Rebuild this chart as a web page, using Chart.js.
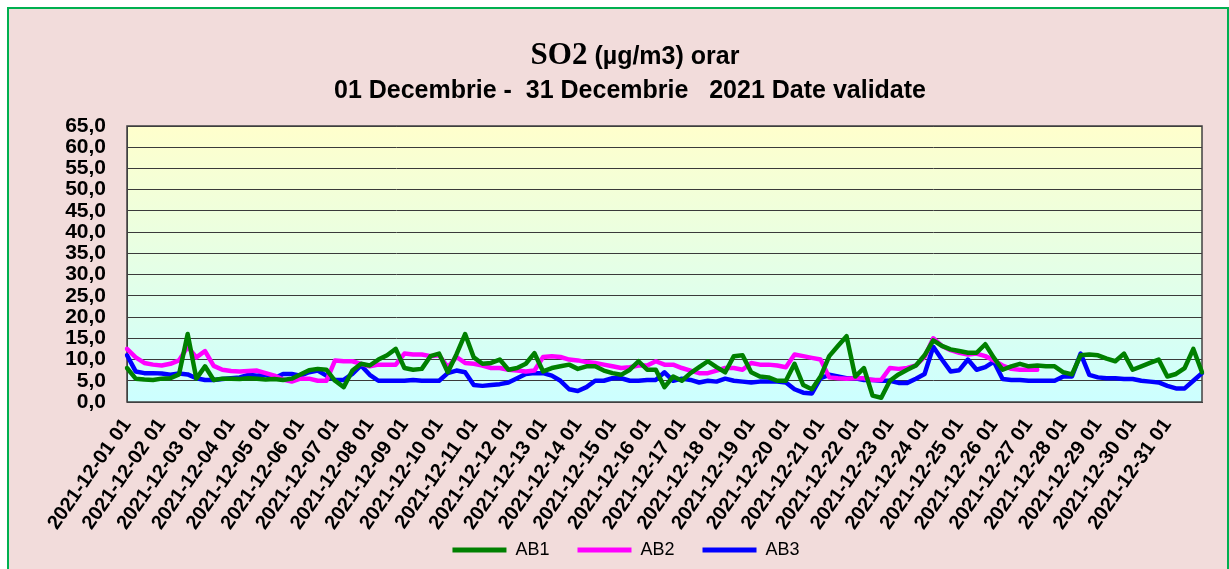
<!DOCTYPE html>
<html>
<head>
<meta charset="utf-8">
<script src="https://cdn.jsdelivr.net/npm/chart.js@4.4.1/dist/chart.umd.min.js"></script>
<style>
  html, body { margin: 0; padding: 0; background: #fff; }
  #wrap { position: relative; width: 1229px; height: 569px; overflow: hidden; }
  #frame { position: absolute; left: 7px; top: 7px; width: 1218px; height: 600px; background: #f2dcdb; border: 2px solid #00b050; }
  #c { position: absolute; left: 0; top: 0; }
</style>
</head>
<body>
<div id="wrap">
  <div id="frame"></div>
  <canvas id="c" width="1229" height="569"></canvas>
</div>
<script>
// etichete: 4 valori pe zi (ora 01, 07, 13, 19) + ultima ora
const ore = ['01', '07', '13', '19'];
const etichete = [];
for (let zi = 1; zi <= 31; zi++) {
    ore.forEach(h => etichete.push('2021-12-' + String(zi).padStart(2, '0') + ' ' + h));
}
etichete.push('2021-12-31 24');

// valori (µg/m3)
const AB1 = [
    8.0, 5.5, 5.3, 5.2, 5.5, 5.6, 6.5, 16.0, 5.5, 8.4, 5.2, 5.5, 5.5, 5.4, 5.6, 5.5,
    5.3, 5.4, 5.2, 5.5, 6.5, 7.5, 7.8, 7.6, 5.0, 3.5, 7.4, 9.0, 8.6, 10.0, 11.0, 12.5,
    8.0, 7.6, 7.8, 10.8, 11.4, 7.0, 11.2, 16.0, 10.5, 9.0, 9.2, 10.0, 7.6, 8.0, 9.0, 11.5,
    7.2, 8.0, 8.4, 8.8, 7.8, 8.4, 8.4, 7.4, 6.8, 6.4, 7.6, 9.6, 7.6, 7.6, 3.5, 6.0,
    5.0, 6.8, 8.2, 9.6, 8.2, 7.0, 10.8, 11.0, 7.0, 6.0, 5.8, 5.0, 5.0, 9.0, 4.0, 3.0,
    6.0, 10.8, 13.2, 15.5, 6.0, 8.0, 1.5, 1.0, 5.0, 6.5, 7.6, 8.6, 11.0, 14.5, 13.2, 12.4,
    12.0, 11.6, 11.6, 13.6, 10.4, 7.6, 8.4, 9.0, 8.4, 8.6, 8.4, 8.4, 7.0, 6.5, 11.0, 11.2,
    11.0, 10.2, 9.6, 11.4, 7.6, 8.4, 9.2, 10.0, 6.0, 6.6, 8.0, 12.5, 7.0
];
const AB2 = [
    12.5, 10.5, 9.2, 8.8, 8.6, 9.0, 9.8, 13.0, 10.5, 12.0, 8.5, 7.6, 7.3, 7.2, 7.3, 7.4,
    6.8, 6.2, 5.3, 4.8, 5.5, 5.5, 5.0, 5.0, 9.8, 9.6, 9.6, 9.0, 8.4, 8.8, 8.8, 8.8,
    11.4, 11.2, 11.2, 10.8, 11.0, 8.2, 10.6, 9.2, 9.0, 8.6, 8.0, 8.0, 7.6, 7.4, 7.2, 7.4,
    10.6, 10.8, 10.6, 10.0, 9.8, 9.4, 9.2, 8.8, 8.4, 8.0, 8.2, 8.6, 8.6, 9.6, 8.8, 8.8,
    8.0, 7.4, 6.8, 6.8, 7.4, 8.0, 8.0, 7.6, 9.2, 8.8, 8.8, 8.6, 8.2, 11.2, 10.8, 10.4,
    10.0, 5.8, 5.6, 5.5, 5.6, 5.6, 5.2, 5.2, 8.0, 7.8, 8.0, 8.6, 10.6, 15.0, 13.2, 12.2,
    11.6, 11.2, 11.4, 10.8, 9.8, 8.6, 7.8, 7.6, 7.6, 7.6, null, null, null, null, null, null,
    null, null, null, null, null, null, null, null, null, null, null, null, null
];
const AB3 = [
    11.0, 7.2, 6.8, 6.8, 6.7, 6.4, 6.7, 6.5, 5.6, 5.2, 5.2, 5.4, 5.6, 5.8, 6.4, 6.2,
    6.4, 5.6, 6.6, 6.6, 6.2, 7.0, 7.4, 6.2, 5.2, 5.2, 6.6, 8.6, 6.4, 5.0, 5.0, 5.0,
    5.0, 5.2, 5.0, 5.0, 5.0, 6.8, 7.4, 7.0, 4.0, 3.8, 4.0, 4.2, 4.6, 5.6, 6.6, 6.8,
    6.8, 6.2, 5.0, 3.0, 2.6, 3.5, 5.0, 5.0, 5.6, 5.6, 5.0, 5.0, 5.2, 5.2, 7.0, 5.0,
    5.5, 5.2, 4.6, 5.0, 4.8, 5.5, 5.0, 4.8, 4.6, 4.8, 4.8, 4.8, 4.6, 3.0, 2.2, 2.0,
    5.6, 6.4, 6.0, 5.6, 5.6, 5.2, 5.2, 5.0, 5.0, 4.5, 4.5, 5.5, 6.6, 13.0, 10.0, 7.2,
    7.5, 10.0, 7.6, 8.2, 9.5, 5.4, 5.2, 5.2, 5.0, 5.0, 5.0, 5.0, 6.0, 6.0, 11.4, 6.4,
    5.8, 5.6, 5.6, 5.4, 5.4, 5.0, 4.8, 4.6, 3.8, 3.2, 3.2, 5.0, 6.8
];

const FONT = 'Arial, "Liberation Sans", sans-serif';

// fundal zona grafic (galben -> cyan) si chenar
const fundalPlot = {
    id: 'fundalPlot',
    beforeDraw(chart) {
        const { ctx, chartArea: a } = chart;
        // etichetele axei X coboara peste zona legendei: fara decupare
        chart.scales.x._computeLabelArea = () => undefined;
        const g = ctx.createLinearGradient(0, a.top, 0, a.bottom);
        g.addColorStop(0, '#ffffcc');
        g.addColorStop(1, '#ccffff');
        ctx.save();
        ctx.fillStyle = g;
        ctx.fillRect(a.left, a.top, a.right - a.left, a.bottom - a.top);
        ctx.restore();
    },
    beforeDatasetsDraw(chart) {
        const { ctx, chartArea: a } = chart;
        ctx.save();
        ctx.strokeStyle = '#404040';
        ctx.lineWidth = 1.5;
        ctx.strokeRect(a.left, a.top, a.right - a.left, a.bottom - a.top);
        ctx.restore();
    }
};

// titlu cu doua fonturi (SO2 in Times)
const titlu = {
    id: 'titlu',
    afterDraw(chart) {
        const ctx = chart.ctx;
        ctx.save();
        ctx.fillStyle = '#000';
        ctx.textBaseline = 'alphabetic';
        const f1 = 'bold 31px "Times New Roman", "Liberation Serif", serif';
        const f2 = 'bold 25px ' + FONT;
        const p1 = 'SO2';
        const p2 = ' (µg/m3) orar';
        ctx.font = f1;
        const w1 = ctx.measureText(p1).width;
        ctx.font = f2;
        const w2 = ctx.measureText(p2).width;
        const x = 635 - (w1 + w2) / 2;
        ctx.textAlign = 'left';
        ctx.font = f1;
        ctx.fillText(p1, x, 64);
        ctx.font = f2;
        ctx.fillText(p2, x + w1, 64);
        ctx.textAlign = 'center';
        ctx.font = 'bold 25px ' + FONT;
        ctx.fillText('01 Decembrie -  31 Decembrie   2021 Date validate', 630, 98);
        ctx.restore();
    }
};

new Chart(document.getElementById('c'), {
    type: 'line',
    data: {
        labels: etichete,
        datasets: [
            { label: 'AB1', data: AB1, borderColor: '#008000', backgroundColor: '#008000' },
            { label: 'AB2', data: AB2, borderColor: '#ff00ff', backgroundColor: '#ff00ff' },
            { label: 'AB3', data: AB3, borderColor: '#0000ff', backgroundColor: '#0000ff' }
        ]
    },
    options: {
        responsive: false,
        animation: false,
        layout: { padding: { left: 50, right: 27, top: 126, bottom: 0 } },
        elements: {
            line: { borderWidth: 4.5, tension: 0, borderJoinStyle: 'round', borderCapStyle: 'round' },
            point: { radius: 0 }
        },
        scales: {
            x: {
                grid: { display: false },
                border: { display: true, color: '#404040' },
                ticks: {
                    autoSkip: false,
                    maxRotation: 55,
                    minRotation: 55,
                    padding: 4,
                    color: '#000',
                    font: { family: FONT, size: 20, weight: 'bold' },
                    callback: function (val) {
                        const t = this.getLabelForValue(val);
                        return t.endsWith(' 01') ? t : '';
                    }
                },
                afterFit: s => { s.height = 111; }
            },
            y: {
                min: 0,
                max: 65,
                grid: { color: '#3a3a3a', lineWidth: 1, drawTicks: false },
                border: { display: true, color: '#404040' },
                ticks: {
                    stepSize: 5,
                    autoSkip: false,
                    padding: 21,
                    color: '#000',
                    font: { family: FONT, size: 21, weight: 'bold' },
                    callback: v => v.toFixed(1).replace('.', ',')
                },
                afterFit: s => { s.width = 77; }
            }
        },
        plugins: {
            title: { display: false },
            tooltip: { enabled: false },
            legend: {
                position: 'bottom',
                labels: {
                    boxWidth: 54,
                    boxHeight: 5,
                    padding: 28,
                    color: '#000',
                    font: { family: FONT, size: 18 },
                    generateLabels: chart => chart.data.datasets.map((ds, i) => ({
                        text: ds.label,
                        fillStyle: ds.borderColor,
                        strokeStyle: ds.borderColor,
                        lineWidth: 0,
                        datasetIndex: i,
                        hidden: false
                    }))
                }
            }
        }
    },
    plugins: [fundalPlot, titlu]
});
</script>
</body>
</html>
